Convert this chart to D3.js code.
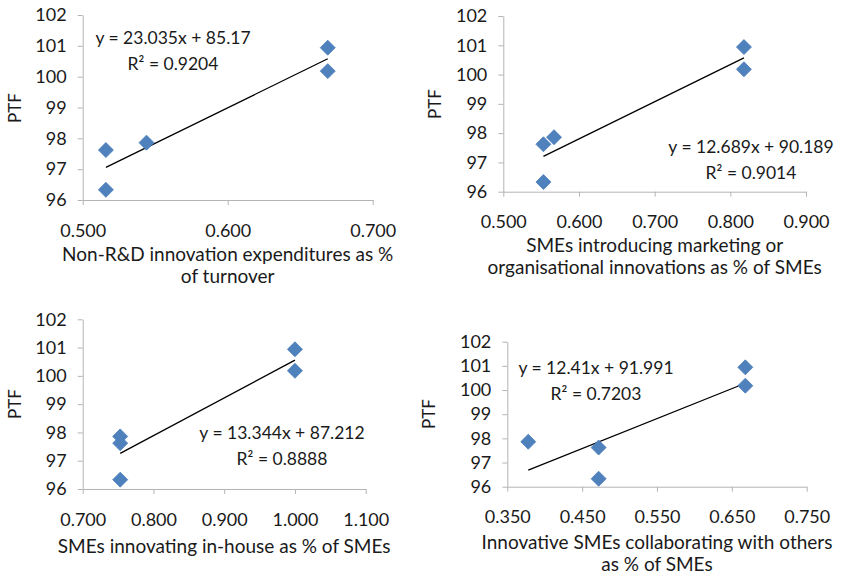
<!DOCTYPE html>
<html>
<head>
<meta charset="utf-8">
<script src="https://cdn.jsdelivr.net/npm/d3@7"></script>
<style>
  body { margin: 0; background: #fff; }
  text { font-family: Lato, "Open Sans", sans-serif; fill: #1a1a1a; }
  .axis path, .axis line { stroke: #b4b4b4; }
</style>
</head>
<body>
<div id="chart"></div>
<script>
// PTF values, one per country, same order in every panel
var ptf = [97.62, 96.33, 97.86, 100.94, 100.18];

var nonRD = [0.516, 0.516, 0.544, 0.669, 0.669];
var marketing = [0.553, 0.553, 0.567, 0.818, 0.818];
var inHouse = [0.753, 0.753, 0.753, 1.000, 1.000];
var collab = [0.472, 0.472, 0.378, 0.668, 0.668];

var slopes = [23.035, 12.689, 13.344, 12.41];
var intercepts = [85.17, 90.189, 87.212, 91.991];
var eqText = ["y = 23.035x + 85.17", "y = 12.689x + 90.189", "y = 13.344x + 87.212", "y = 12.41x + 91.991"];
var r2Text = ["R² = 0.9204", "R² = 0.9014", "R² = 0.8888", "R² = 0.7203"];

var xTicks = [
  [0.5, 0.6, 0.7],
  [0.5, 0.6, 0.7, 0.8, 0.9],
  [0.7, 0.8, 0.9, 1.0, 1.1],
  [0.35, 0.45, 0.55, 0.65, 0.75]
];
var yTicks = [96, 97, 98, 99, 100, 101, 102];

var xTitles = [
  ["Non-R&D innovation expenditures as %", "of turnover"],
  ["SMEs introducing marketing or", "organisational innovations as % of SMEs"],
  ["SMEs innovating in-house as % of SMEs"],
  ["Innovative SMEs collaborating with others", "as % of SMEs"]
];

var xSeries = [nonRD, marketing, inHouse, collab];

// layout of each plot box (pixels) and where its labels sit
var panels = [
  { l: 82.7, r: 372.7, t: 15, b: 200, ptf: [15, 108], eq: [173, 38], title: 254 },
  { l: 503.3, r: 806, t: 16, b: 191.7, ptf: [435, 104], eq: [751, 147], title: 245 },
  { l: 82.7, r: 365.7, t: 319.3, b: 489, ptf: [15, 404], eq: [282, 433], title: 546 },
  { l: 507.3, r: 806.7, t: 341.7, b: 486.7, ptf: [429, 414], eq: [596, 368], title: 542 }
];

var svg = d3.select("#chart").append("svg")
  .attr("width", 841)
  .attr("height", 574);

panels.forEach(function(p, k) {
  var ticks = xTicks[k];
  var x = d3.scaleLinear()
    .domain([ticks[0], ticks[ticks.length - 1]])
    .range([p.l, p.r]);
  var y = d3.scaleLinear()
    .domain([96, 102])
    .range([p.b, p.t]);

  var g = svg.append("g");

  g.append("g")
    .attr("class", "axis")
    .attr("transform", "translate(0," + p.b + ")")
    .call(d3.axisBottom(x).tickValues(ticks).tickFormat(d3.format(".3f"))
      .tickSizeInner(5).tickSizeOuter(0).tickPadding(19))
    .call(function(s) { s.selectAll("text").style("font-size", "18px").attr("fill", "#1a1a1a"); });

  g.append("g")
    .attr("class", "axis")
    .attr("transform", "translate(" + p.l + ",0)")
    .call(d3.axisLeft(y).tickValues(yTicks).tickFormat(d3.format("d"))
      .tickSizeInner(5).tickSizeOuter(0).tickPadding(11))
    .call(function(s) { s.selectAll("text").style("font-size", "18px").attr("fill", "#1a1a1a"); });

  // y title
  g.append("text")
    .attr("transform", "translate(" + p.ptf[0] + "," + p.ptf[1] + ") rotate(-90)")
    .attr("text-anchor", "middle")
    .attr("dy", "0.35em")
    .style("font-size", "17px")
    .text("PTF");

  // x title (one or two lines)
  var cx = (p.l + p.r) / 2;
  xTitles[k].forEach(function(line, i) {
    g.append("text")
      .attr("x", cx)
      .attr("y", p.title + i * 22.5)
      .attr("dy", "0.35em")
      .attr("text-anchor", "middle")
      .style("font-size", "19px")
      .text(line);
  });

  // trendline over the x range of the points
  var xs = xSeries[k];
  var x0 = d3.min(xs), x1 = d3.max(xs);
  g.append("line")
    .attr("x1", x(x0))
    .attr("y1", y(slopes[k] * x0 + intercepts[k]))
    .attr("x2", x(x1))
    .attr("y2", y(slopes[k] * x1 + intercepts[k]))
    .attr("stroke", "#000")
    .attr("stroke-width", 1.3);

  // points
  g.selectAll("path.pt")
    .data(xs)
    .enter()
    .append("path")
    .attr("class", "pt")
    .attr("d", d3.symbol().type(d3.symbolSquare).size(112))
    .attr("transform", function(d, i) {
      return "translate(" + x(d) + "," + y(ptf[i]) + ") rotate(45)";
    })
    .attr("fill", "#4f81bd")
    .attr("stroke", "#4a7ebb")
    .attr("stroke-width", 0.8);

  // equation
  g.append("text")
    .attr("x", p.eq[0])
    .attr("y", p.eq[1])
    .attr("dy", "0.35em")
    .attr("text-anchor", "middle")
    .style("font-size", "17.5px")
    .text(eqText[k]);
  g.append("text")
    .attr("x", p.eq[0])
    .attr("y", p.eq[1] + 25.5)
    .attr("dy", "0.35em")
    .attr("text-anchor", "middle")
    .style("font-size", "17.5px")
    .text(r2Text[k]);
});
</script>
</body>
</html>
